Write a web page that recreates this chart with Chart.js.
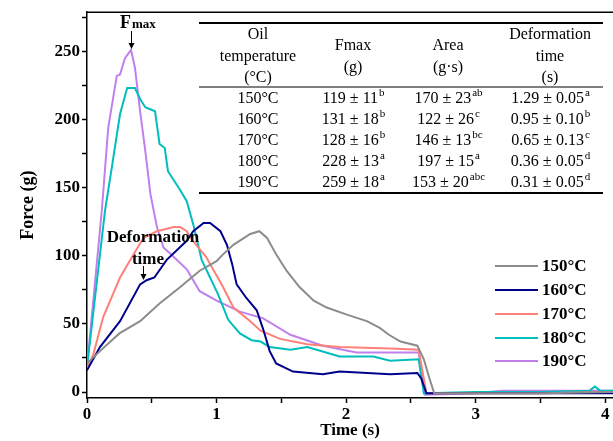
<!DOCTYPE html>
<html>
<head>
<meta charset="utf-8">
<script src="https://cdn.jsdelivr.net/npm/chart.js@4"></script>
<style>
  html, body { margin: 0; padding: 0; background: #fff; }
  #wrap { width: 613px; height: 441px; }
</style>
</head>
<body>
<div id="wrap"><canvas id="myChart" width="613" height="441"></canvas></div>
<script>
// series: time (s) and force (g)
let t150 = [0, 0.10, 0.25, 0.41, 0.56, 0.72, 0.87, 1.00, 1.05, 1.13, 1.26, 1.33, 1.39, 1.46, 1.54, 1.64, 1.75, 1.85, 2.00, 2.16, 2.26, 2.33, 2.42, 2.55, 2.60, 2.64, 2.68, 3.0, 3.5, 4.06];
let f150 = [21, 30, 43, 52, 65, 77, 89, 96, 101, 108, 116, 118, 113, 101, 89, 77, 67, 62, 57, 52, 47, 42, 37, 34, 24, 11, -1, -1, -1, 0];

let t160 = [0, 0.10, 0.255, 0.41, 0.46, 0.52, 0.615, 0.77, 0.82, 0.90, 0.95, 1.03, 1.08, 1.12, 1.155, 1.23, 1.31, 1.36, 1.41, 1.46, 1.59, 1.82, 1.95, 2.34, 2.55, 2.58, 2.62, 3.0, 3.5, 4.06];
let f160 = [16, 33, 52, 79, 82, 84, 97, 111, 118, 124, 124, 118, 108, 94, 79, 69, 60, 46, 30, 21, 15, 13, 15, 13, 14, 10, -1, -1, -1, -1];

let t170 = [0, 0.05, 0.125, 0.255, 0.36, 0.435, 0.54, 0.67, 0.72, 0.77, 0.80, 0.92, 1.05, 1.13, 1.26, 1.34, 1.49, 1.70, 1.95, 2.34, 2.56, 2.62, 3.0, 3.5, 4.06];
let f170 = [17, 28, 55, 84, 101, 113, 118, 121, 121, 118, 113, 99, 77, 62, 52, 45, 39, 35, 33, 32, 31, -1, -1, -1, 0];

let t180 = [0, 0.139, 0.20, 0.255, 0.31, 0.37, 0.41, 0.45, 0.525, 0.56, 0.60, 0.625, 0.72, 0.77, 0.82, 0.885, 1.01, 1.09, 1.18, 1.27, 1.34, 1.41, 1.57, 1.70, 1.95, 2.21, 2.34, 2.56, 2.60, 3.0, 3.5, 3.88, 3.92, 3.96, 4.06];
let f180 = [18, 133, 170, 204, 223, 223, 215, 209, 206, 182, 179, 162, 148, 140, 123, 97, 72, 53, 43, 38, 37, 33, 31, 33, 26, 26, 23, 24, -1, 0, 0, 1, 4, 1, 1];

let t190 = [0, 0.114, 0.164, 0.23, 0.255, 0.293, 0.34, 0.37, 0.41, 0.45, 0.49, 0.54, 0.59, 0.66, 0.77, 0.87, 1.0, 1.18, 1.36, 1.57, 1.82, 2.08, 2.34, 2.56, 2.61, 3.0, 3.2, 3.5, 4.06];
let f190 = [18, 133, 194, 232, 233, 245, 251, 238, 206, 177, 145, 121, 106, 100, 90, 74, 67, 59, 54, 42, 34, 29, 29, 29, -2, -1, 1, 1, 1];

let seriesLabels = ['150°C', '160°C', '170°C', '180°C', '190°C'];
let seriesColors = ['rgb(140,140,140)', 'rgb(0,0,140)', 'rgb(255,128,120)', 'rgb(0,190,190)', 'rgb(192,128,235)'];

let xTicks = [0, 0.5, 1, 1.5, 2, 2.5, 3, 3.5, 4];
let yTicks = [0, 25, 50, 75, 100, 125, 150, 175, 200, 225, 250, 275];

// summary table (text only)
let tableHeader = [['Oil', 'temperature', '(°C)'], ['Fmax', '(g)'], ['Area', '(g·s)'], ['Deformation', 'time', '(s)']];
let tableTemps = ['150°C', '160°C', '170°C', '180°C', '190°C'];
let tableFmax = [['119 ± 11', 'b'], ['131 ± 18', 'b'], ['128 ± 16', 'b'], ['228 ± 13', 'a'], ['259 ± 18', 'a']];
let tableArea = [['170 ± 23', 'ab'], ['122 ± 26', 'c'], ['146 ± 13', 'bc'], ['197 ± 15', 'a'], ['153 ± 20', 'abc']];
let tableDef = [['1.29 ± 0.05', 'a'], ['0.95 ± 0.10', 'b'], ['0.65 ± 0.13', 'c'], ['0.36 ± 0.05', 'd'], ['0.31 ± 0.05', 'd']];

let SERIF = '"Liberation Serif", "Times New Roman", serif';

function toPoints(ts, fs) {
    return ts.map((t, i) => ({ x: t, y: fs[i] }));
}

let pairs = [[t150, f150], [t160, f160], [t170, f170], [t180, f180], [t190, f190]];
let datasets = pairs.map((p, i) => ({
    label: seriesLabels[i],
    data: toPoints(p[0], p[1]),
    borderColor: seriesColors[i],
    backgroundColor: seriesColors[i],
    borderWidth: 2,
    pointRadius: 0,
    tension: 0,
    fill: false
}));

function arrowDown(ctx, x, y0, y1) {
    ctx.beginPath();
    ctx.moveTo(x, y0);
    ctx.lineTo(x, y1 - 5);
    ctx.stroke();
    ctx.beginPath();
    ctx.moveTo(x - 3, y1 - 6);
    ctx.lineTo(x + 3, y1 - 6);
    ctx.lineTo(x, y1);
    ctx.closePath();
    ctx.fill();
}

function supText(ctx, cx, y, main, sup) {
    ctx.font = '16px ' + SERIF;
    let w1 = ctx.measureText(main).width;
    ctx.font = '11px ' + SERIF;
    let w2 = ctx.measureText(sup).width;
    let x0 = cx - (w1 + w2) / 2;
    ctx.textAlign = 'left';
    ctx.font = '16px ' + SERIF;
    ctx.fillText(main, x0, y);
    ctx.font = '11px ' + SERIF;
    ctx.fillText(sup, x0 + w1 + 1, y - 6);
}

let extras = {
    id: 'extras',
    afterDraw(chart) {
        let ctx = chart.ctx;
        let a = chart.chartArea;
        ctx.save();
        ctx.strokeStyle = '#000';
        ctx.fillStyle = '#000';
        // top frame line
        ctx.lineWidth = 1.5;
        ctx.beginPath();
        ctx.moveTo(a.left, a.top);
        ctx.lineTo(a.right, a.top);
        ctx.stroke();

        // table rules
        ctx.lineWidth = 2;
        ctx.beginPath(); ctx.moveTo(199, 23); ctx.lineTo(603, 23); ctx.stroke();
        ctx.lineWidth = 1;
        ctx.beginPath(); ctx.moveTo(199, 87); ctx.lineTo(603, 87); ctx.stroke();
        ctx.lineWidth = 2;
        ctx.beginPath(); ctx.moveTo(199, 193); ctx.lineTo(603, 193); ctx.stroke();

        let colX = [258, 353, 448, 550];
        ctx.textBaseline = 'middle';
        ctx.textAlign = 'center';
        ctx.font = '16px ' + SERIF;
        let hy = [[35, 57, 78], [46, 68], [46, 68], [35, 57, 78]];
        tableHeader.forEach((lines, c) => {
            lines.forEach((s, r) => ctx.fillText(s, colX[c], hy[c][r]));
        });
        let rowY = [99, 120, 141, 162, 183];
        tableTemps.forEach((s, r) => {
            ctx.textAlign = 'center';
            ctx.font = '16px ' + SERIF;
            ctx.fillText(s, colX[0], rowY[r]);
            supText(ctx, colX[1], rowY[r], tableFmax[r][0], tableFmax[r][1]);
            supText(ctx, colX[2], rowY[r], tableArea[r][0], tableArea[r][1]);
            supText(ctx, colX[3], rowY[r], tableDef[r][0], tableDef[r][1]);
        });

        // legend
        ctx.textAlign = 'left';
        ctx.font = 'bold 17px ' + SERIF;
        let legY = [266, 290, 314, 338, 361];
        chart.data.datasets.forEach((ds, i) => {
            ctx.strokeStyle = ds.borderColor;
            ctx.lineWidth = 2;
            ctx.beginPath();
            ctx.moveTo(495, legY[i]);
            ctx.lineTo(538, legY[i]);
            ctx.stroke();
            ctx.fillStyle = '#000';
            ctx.fillText(ds.label, 542, legY[i] + 1);
        });

        // annotations
        ctx.strokeStyle = '#000';
        ctx.fillStyle = '#000';
        ctx.lineWidth = 1;
        ctx.textBaseline = 'alphabetic';
        ctx.font = 'bold 18px ' + SERIF;
        ctx.fillText('F', 120, 28);
        let fw = ctx.measureText('F').width;
        ctx.font = 'bold 13px ' + SERIF;
        ctx.fillText('max', 120 + fw + 1, 28);
        arrowDown(ctx, 131.5, 31, 49);

        ctx.textAlign = 'center';
        ctx.font = 'bold 17px ' + SERIF;
        ctx.fillText('Deformation', 153, 242);
        ctx.fillText('time', 148, 264);
        arrowDown(ctx, 143.5, 266, 280);
        ctx.restore();
    }
};

let ctx = document.getElementById('myChart').getContext('2d');
let myChart = new Chart(ctx, {
    type: 'line',
    data: { datasets: datasets },
    options: {
        responsive: false,
        animation: false,
        layout: { padding: { left: 0, right: 0, top: 11, bottom: 0 } },
        plugins: { legend: { display: false }, tooltip: { enabled: false } },
        scales: {
            x: {
                type: 'linear',
                min: 0,
                max: 4.06,
                afterBuildTicks: (s) => { s.ticks = xTicks.map(v => ({ value: v })); },
                afterFit: (s) => { s.height = 43; },
                ticks: {
                    autoSkip: false,
                    maxRotation: 0,
                    padding: 1,
                    color: '#000',
                    font: { family: SERIF, size: 17, weight: 'bold' },
                    callback: (v) => Number.isInteger(v) ? String(v) : ''
                },
                grid: { drawOnChartArea: false, drawTicks: true, tickLength: 5, tickColor: '#000', tickWidth: 1.5 },
                border: { color: '#000', width: 1.5 },
                title: {
                    display: true,
                    text: 'Time (s)',
                    color: '#000',
                    font: { family: SERIF, size: 17, weight: 'bold' },
                    padding: { top: 0, bottom: 0 }
                }
            },
            y: {
                type: 'linear',
                min: -4.4,
                max: 278.7,
                afterBuildTicks: (s) => { s.ticks = yTicks.map(v => ({ value: v })); },
                afterFit: (s) => { s.width = 87; },
                ticks: {
                    autoSkip: false,
                    padding: 2,
                    color: '#000',
                    font: { family: SERIF, size: 17, weight: 'bold' },
                    callback: (v) => v % 50 === 0 ? String(v) : ''
                },
                grid: { drawOnChartArea: false, drawTicks: true, tickLength: 5, tickColor: '#000', tickWidth: 1.5 },
                border: { color: '#000', width: 1.5 },
                title: {
                    display: true,
                    text: 'Force (g)',
                    color: '#000',
                    font: { family: SERIF, size: 18, weight: 'bold' },
                    padding: { top: 18, bottom: 0 }
                }
            }
        }
    },
    plugins: [extras]
});
</script>
</body>
</html>
